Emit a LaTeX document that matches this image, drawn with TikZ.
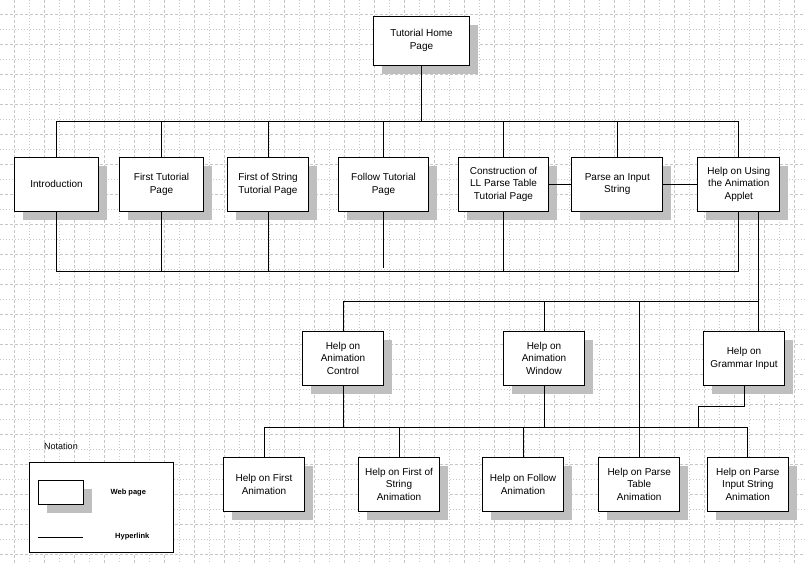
\documentclass[tikz,border=0pt]{standalone}
\usepackage{fontspec}
\setmainfont{Liberation Sans}
\usetikzlibrary{shadows}

\begin{document}
\begin{tikzpicture}[x=1pt,y=-1pt,
    page/.style={draw,line width=1pt,fill=white,align=center,inner sep=1pt,
      minimum width=81.4pt,minimum height=54pt,font=\fontsize{10}{12.5}\selectfont,
      drop shadow={shadow xshift=8.5pt,shadow yshift=-8.5pt,fill=black!25,opacity=1}},
    link/.style={line width=1pt},
    gridA/.style={black!22,line width=0.9pt,dash pattern=on 3pt off 2pt},
    gridB/.style={black!22,line width=0.9pt,dash pattern=on 1pt off 2pt}]
    % Page area and background grid
    \fill[white] (0,0) rectangle (805,563);
    \useasboundingbox (0,0) rectangle (805,563);
    \foreach \y in {14.5,44.5,...,554.5} \draw[gridA] (0,\y) -- (805,\y);
    \foreach \y in {29.5,59.5,...,539.5} \draw[gridB] (0,\y) -- (805,\y);
    \foreach \x in {14.5,44.5,...,794.5} \draw[gridA] (\x,0) -- (\x,563);
    \foreach \x in {29.5,59.5,...,779.5} \draw[gridB] (\x,0) -- (\x,563);

    % Home page
    \node[page,minimum width=96.5pt,minimum height=49pt] (home) at (421.5,40.5) {Tutorial Home\\Page};

    % Tutorial pages
    \node[page,minimum width=84.4pt] (intro) at (56.5,184.3) {Introduction};
    \node[page,minimum width=84.4pt] (first) at (161.5,184.3) {First Tutorial\\Page};
    \node[page] (fos) at (268,184.3) {First of String\\Tutorial Page};
    \node[page,minimum width=90.4pt] (follow) at (383.5,184.3) {Follow Tutorial\\Page};
    \node[page,minimum width=90.4pt] (cons) at (503.5,184.3) {Construction of\\LL Parse Table\\Tutorial Page};
    \node[page,minimum width=90.7pt] (parse) at (617.3,184.3) {Parse an Input\\String};
    \node[page,minimum width=81.7pt] (applet) at (738.8,184.3) {Help on Using\\the Animation\\Applet};

    % Help pages
    \node[page] (ctrl) at (343,358.4) {Help on\\Animation\\Control};
    \node[page] (win) at (544,358.4) {Help on\\Animation\\Window};
    \node[page] (gram) at (744,358.4) {Help on\\Grammar Input};

    % Animation help pages
    \node[page] (afirst) at (264,484.3) {Help on First\\Animation};
    \node[page] (afos) at (399,484.3) {Help on First of\\String\\Animation};
    \node[page] (afollow) at (523,484.3) {Help on Follow\\Animation};
    \node[page] (atable) at (639.2,484.3) {Help on Parse\\Table\\Animation};
    \node[page] (ainput) at (747.8,484.3) {Help on Parse\\Input String\\Animation};

    % Bus points
    \coordinate (top) at (421.5,121);
    \coordinate (low) at (421.5,271);
    \coordinate (tail) at (383.5,267.7);
    \coordinate (appr) at ([xshift=19.5pt]applet.south);
    \coordinate (mid) at (758.3,301);
    \coordinate (jog) at (698.3,406);
    \coordinate (bot) at (500,427.3);

    % Hyperlinks
    \draw[link] (home.south) -- (top);
    \foreach \n in {intro,first,fos,follow,cons,parse,applet}
      \draw[link] (\n.north) |- (top);
    \foreach \n in {intro,first,fos,cons,applet}
      \draw[link] (\n.south) |- (low);
    \draw[link] (follow.south) -- (tail);
    \draw[link] (cons) -- (parse);
    \draw[link] (parse) -- (applet);
    \draw[link] (appr) -- (appr |- gram.north);
    \foreach \n in {ctrl,win,atable}
      \draw[link] (\n.north) |- (mid);
    \draw[link] (gram.south) |- (jog) -- (jog |- bot);
    \foreach \n in {ctrl,win}
      \draw[link] (\n.south) -- (\n.south |- bot);
    \foreach \n in {afirst,afos,afollow,atable,ainput}
      \draw[link] (\n.north) |- (bot);

    % Notation
    \node[font=\fontsize{9}{10}\selectfont] (note) at (61,446.7) {Notation};
    \node[draw,line width=1pt,fill=white,minimum width=144.4pt,minimum height=90pt] (legend) at (101.5,507.3) {};
    \node[page,minimum width=45.4pt,minimum height=24.3pt] (key) at (61,492.2) {};
    \node[font=\fontsize{7.5}{9}\selectfont\bfseries] (keylbl) at (128.3,492.7) {Web page};
    \coordinate (la) at (38.3,537);
    \coordinate (lb) at (83,537);
    \draw[link] (la) -- (lb);
    \node[font=\fontsize{7.5}{9}\selectfont\bfseries] (linklbl) at (132.3,537) {Hyperlink};
  \end{tikzpicture}
\end{document}
